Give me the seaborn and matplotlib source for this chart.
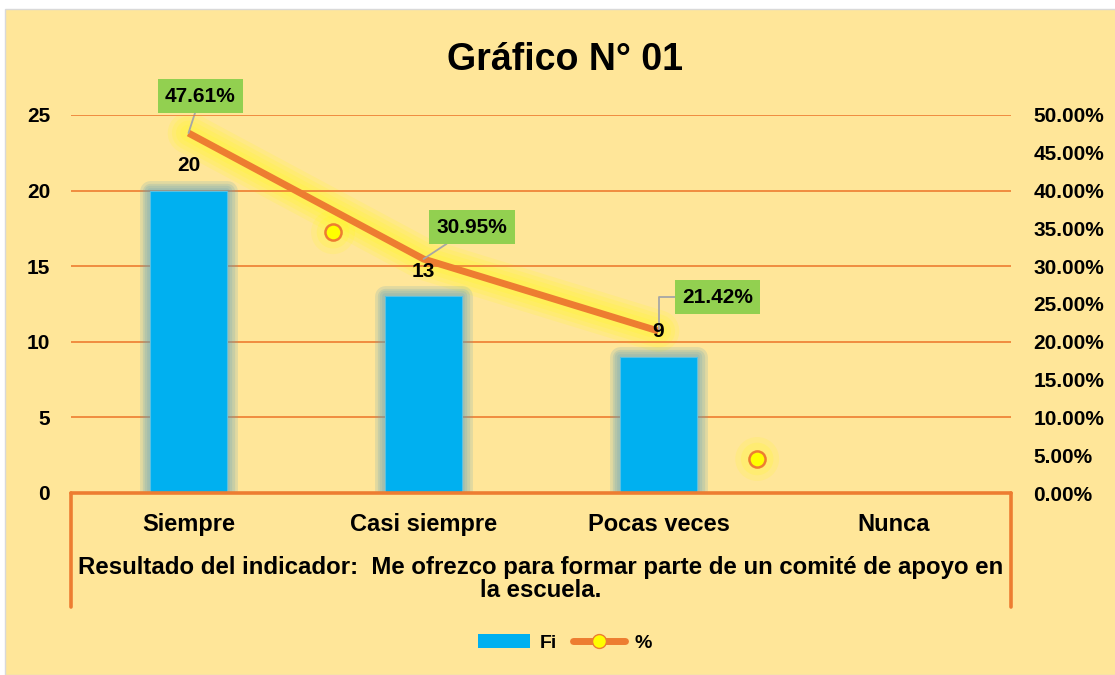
"""Gráfico N° 01: Fi (barras) y % (línea) del indicador de comité de apoyo."""
import matplotlib
matplotlib.use('Agg')
import matplotlib.pyplot as plt
import matplotlib.patheffects as pe
from matplotlib.patches import Rectangle, Patch
from matplotlib.lines import Line2D
from matplotlib.ticker import StrMethodFormatter, MultipleLocator
import numpy as np
import seaborn as sns

categorias = ['Siempre', 'Casi siempre', 'Pocas veces', 'Nunca']
fi = [20, 13, 9, 0]
porcentaje = [0.4761, 0.3095, 0.2142]
etiquetas_pct = ['47.61%', '30.95%', '21.42%']
# marcadores sueltos que aparecen en el original
sueltos_x = [0.615, 2.42]
sueltos_y = [0.345, 0.045]

titulo = 'Gráfico N° 01'
indicador = 'Resultado del indicador:  Me ofrezco para formar parte de un comité de apoyo en\nla escuela.'

FONDO = '#FFE699'
AZUL = '#00B0F0'
NARANJA = '#ED7D31'
VERDE = '#92D050'
AMARILLO = '#FFFF00'

sns.set_style('white')
plt.rcParams['font.family'] = ['Liberation Sans', 'DejaVu Sans']
plt.rcParams['font.weight'] = 'bold'
plt.rcParams['text.color'] = 'black'
plt.rcParams['xtick.color'] = 'black'
plt.rcParams['ytick.color'] = 'black'


def glow(color, widths, alpha):
    fx = [pe.Stroke(linewidth=w, foreground=color, alpha=alpha, joinstyle='round',
                    capstyle='round') for w in widths]
    return fx + [pe.Normal()]


W, H = 1115, 675
fig = plt.figure(figsize=(W / 100, H / 100), dpi=100)
fig.patch.set_facecolor('white')
fig.patches.append(Rectangle((5 / W, 0), 1, 1 - 9 / H, transform=fig.transFigure,
                             facecolor=FONDO, edgecolor='#D9D9D9', lw=1, zorder=-10))

ax = fig.add_axes([71 / W, 182 / H, 940 / W, 378 / H])
ax2 = ax.twinx()

# barras
sns.barplot(x=categorias, y=fi, ax=ax, color=AZUL, width=0.33, saturation=1)
for p, v in zip(ax.patches, fi):
    p.set_edgecolor('#5BC0E0')
    p.set_linewidth(0.8)
    if v > 0:
        p.set_path_effects(glow('#5A9FC0', [15, 11, 7.5, 4], 0.18))
        ax.annotate(str(v), (p.get_x() + p.get_width() / 2, v), xytext=(0, 18),
                    textcoords='offset points', ha='center', va='center',
                    fontsize=15, fontweight='bold', zorder=10)

# linea de porcentajes
pos = np.arange(len(porcentaje))
sns.lineplot(x=pos, y=porcentaje, ax=ax2, color=NARANJA, lw=5,
             solid_capstyle='butt', path_effects=glow(AMARILLO, [30, 24, 18, 12], 0.13))

sns.scatterplot(x=sueltos_x, y=sueltos_y, ax=ax2, s=1000, color=AMARILLO,
                alpha=0.12, edgecolor='none', legend=False)
sns.scatterplot(x=sueltos_x, y=sueltos_y, ax=ax2, s=550, color=AMARILLO,
                alpha=0.15, edgecolor='none', legend=False)
sns.scatterplot(x=sueltos_x, y=sueltos_y, ax=ax2, s=135, color=AMARILLO,
                edgecolor=NARANJA, linewidth=1.8, legend=False, zorder=5)

# etiquetas verdes
offs = [(8.6, 26.6), (35, 23), (42.5, 24.5)]
for i, (val, txt, off) in enumerate(zip(porcentaje, etiquetas_pct, offs)):
    if i == 2:
        ap = dict(arrowstyle='-', color='#A6A6A6', lw=1.3, shrinkA=0, shrinkB=0,
                  relpos=(0, 0.5), connectionstyle='angle,angleA=0,angleB=90,rad=0')
    else:
        ap = dict(arrowstyle='-', color='#A6A6A6', lw=1.3, shrinkA=0, shrinkB=0)
    ax2.annotate(txt, (pos[i], val), xytext=off, textcoords='offset points',
                 ha='center', va='center', fontsize=15, fontweight='bold',
                 bbox=dict(boxstyle='square,pad=0.35', facecolor=VERDE, edgecolor='none'),
                 arrowprops=ap, zorder=8)

# ejes
ax.set_xlim(-0.5, 3.5)
ax2.set_xlim(-0.5, 3.5)
ax.set_ylim(0, 25)
ax2.set_ylim(0, 0.5)
ax.yaxis.set_major_locator(MultipleLocator(5))
ax2.yaxis.set_major_locator(MultipleLocator(0.05))
ax2.yaxis.set_major_formatter(StrMethodFormatter('{x:.2%}'))
ax.set_xlabel('')
ax.set_ylabel('')
ax2.set_ylabel('')
ax.grid(axis='y', color=NARANJA, lw=1.2)
ax.grid(axis='x', visible=False)
ax2.grid(False)
ax.set_axisbelow(True)
for a in (ax, ax2):
    for s in a.spines.values():
        s.set_visible(False)
ax.tick_params(axis='x', length=0, pad=14.5, labelsize=17)
ax.tick_params(axis='y', length=0, pad=15, labelsize=15)
ax2.tick_params(axis='y', length=0, pad=16, labelsize=15)
for lab in ax.get_xticklabels() + ax.get_yticklabels() + ax2.get_yticklabels():
    lab.set_fontweight('bold')

ax.set_zorder(ax2.get_zorder() + 1)
ax.patch.set_visible(False)

# caja del eje de categorias
yb = -114 / 378
ax.plot([0, 1], [0, 0], transform=ax.transAxes, color=NARANJA, lw=2.6, clip_on=False, zorder=6)
ax.plot([0, 0], [0, yb], transform=ax.transAxes, color=NARANJA, lw=2.6, clip_on=False)
ax.plot([1, 1], [0, yb], transform=ax.transAxes, color=NARANJA, lw=2.6, clip_on=False)
ax.text(0.5, -86 / 378, indicador, transform=ax.transAxes, ha='center', va='center',
        fontsize=17.3, fontweight='bold', linespacing=1.0)

fig.text(565 / W, 1 - 60 / H, titulo, ha='center', va='center', fontsize=27, fontweight='bold')

handles = [Patch(facecolor=AZUL, edgecolor='none'),
           Line2D([], [], color=NARANJA, lw=5, marker='o', markersize=10,
                  markerfacecolor=AMARILLO, markeredgecolor=NARANJA)]
fig.legend(handles, ['Fi', '%'], loc='center', bbox_to_anchor=(565 / W, 32 / H), ncol=2,
           frameon=False, prop={'size': 14, 'weight': 'bold'}, handlelength=2.7,
           columnspacing=0.8, handletextpad=0.5)

fig.savefig('out.png', dpi=100, facecolor=fig.get_facecolor())
